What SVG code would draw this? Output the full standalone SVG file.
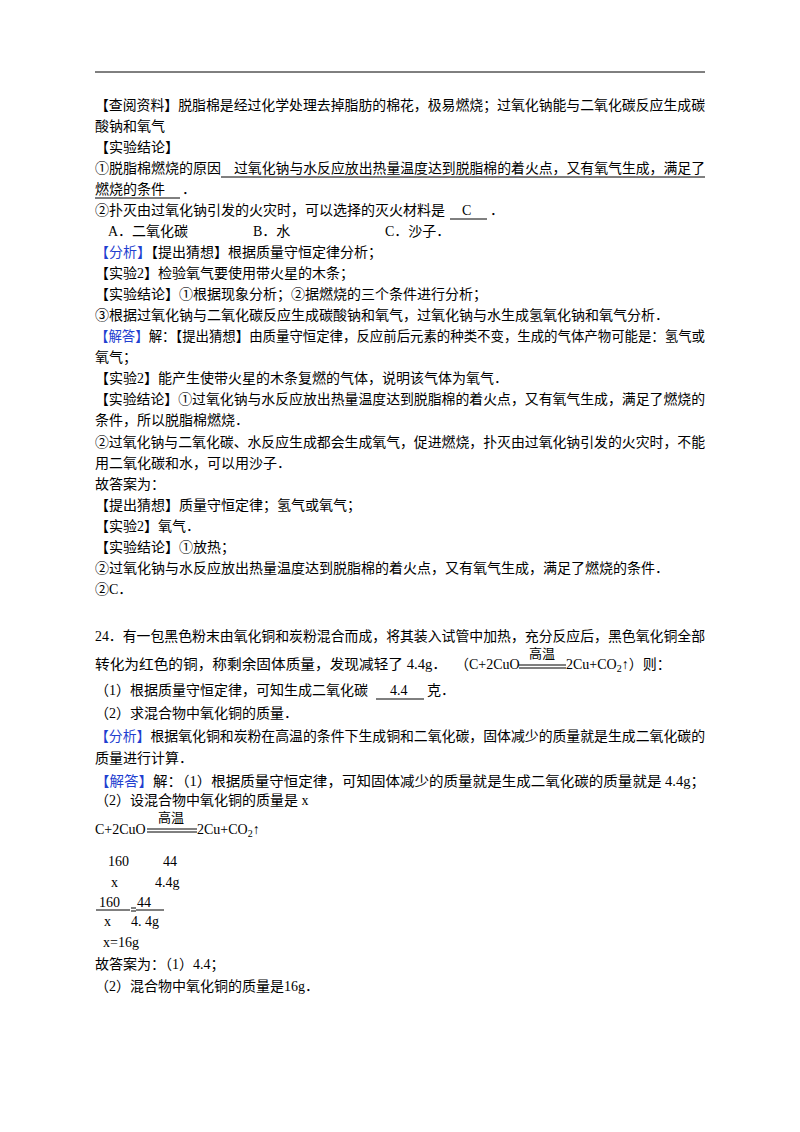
<svg xmlns="http://www.w3.org/2000/svg" width="800" height="1132" viewBox="0 0 800 1132">
<style>
text{font-family:"Liberation Serif","Noto Sans CJK SC",serif;font-size:14px;fill:#000}
.b{fill:#1f3fd0}
.h{font-family:"Noto Sans CJK SC",sans-serif;font-size:13px}
line{stroke:#000;stroke-width:1}
</style>
<rect width="800" height="1132" fill="#fff"/>
<line x1="95" y1="72" x2="705" y2="72" stroke-width="1.5"/>
<text x="95" y="110" textLength="610" lengthAdjust="spacingAndGlyphs">【查阅资料】脱脂棉是经过化学处理去掉脂肪的棉花，极易燃烧；过氧化钠能与二氧化碳反应生成碳</text>
<text x="95" y="131">酸钠和氧气</text>
<text x="95" y="152">【实验结论】</text>
<text x="95" y="173">①脱脂棉燃烧的原因</text>
<text x="234" y="173" textLength="471" lengthAdjust="spacingAndGlyphs">过氧化钠与水反应放出热量温度达到脱脂棉的着火点，又有氧气生成，满足了</text>
<line x1="221" y1="177" x2="705" y2="177"/>
<text x="95" y="194">燃烧的条件</text>
<line x1="95" y1="198" x2="180" y2="198"/>
<text x="182" y="194">．</text>
<text x="95" y="215">②扑灭由过氧化钠引发的火灾时，可以选择的灭火材料是</text>
<text x="462" y="215">C</text>
<line x1="450" y1="219" x2="487" y2="219"/>
<text x="490" y="215">．</text>
<text x="108" y="236">A．二氧化碳</text>
<text x="253" y="236">B．水</text>
<text x="385" y="236">C．沙子．</text>
<text x="95" y="257"><tspan class="b">【分析】</tspan>【提出猜想】根据质量守恒定律分析；</text>
<text x="95" y="278">【实验2】检验氧气要使用带火星的木条；</text>
<text x="95" y="299">【实验结论】①根据现象分析；②据燃烧的三个条件进行分析；</text>
<text x="95" y="320">③根据过氧化钠与二氧化碳反应生成碳酸钠和氧气，过氧化钠与水生成氢氧化钠和氧气分析．</text>
<text x="95" y="341" textLength="610" lengthAdjust="spacingAndGlyphs"><tspan class="b">【解答】</tspan>解：【提出猜想】由质量守恒定律，反应前后元素的种类不变，生成的气体产物可能是：氢气或</text>
<text x="95" y="362">氧气；</text>
<text x="95" y="383">【实验2】能产生使带火星的木条复燃的气体，说明该气体为氧气．</text>
<text x="95" y="404" textLength="610" lengthAdjust="spacingAndGlyphs">【实验结论】①过氧化钠与水反应放出热量温度达到脱脂棉的着火点，又有氧气生成，满足了燃烧的</text>
<text x="95" y="425">条件，所以脱脂棉燃烧．</text>
<text x="95" y="447" textLength="610" lengthAdjust="spacingAndGlyphs">②过氧化钠与二氧化碳、水反应生成都会生成氧气，促进燃烧，扑灭由过氧化钠引发的火灾时，不能</text>
<text x="95" y="468">用二氧化碳和水，可以用沙子．</text>
<text x="95" y="489">故答案为：</text>
<text x="95" y="510">【提出猜想】质量守恒定律；氢气或氧气；</text>
<text x="95" y="531">【实验2】氧气．</text>
<text x="95" y="552">【实验结论】①放热；</text>
<text x="95" y="573">②过氧化钠与水反应放出热量温度达到脱脂棉的着火点，又有氧气生成，满足了燃烧的条件．</text>
<text x="95" y="594">②C．</text>
<text x="95" y="641" textLength="610" lengthAdjust="spacingAndGlyphs">24．有一包黑色粉末由氧化铜和炭粉混合而成，将其装入试管中加热，充分反应后，黑色氧化铜全部</text>
<text x="95" y="669" textLength="352" lengthAdjust="spacingAndGlyphs">转化为红色的铜，称剩余固体质量，发现减轻了 4.4g．</text>
<text x="455" y="669">（C+2CuO</text>
<text class="h" x="529" y="658">高温</text>
<line x1="519" y1="665" x2="566" y2="665"/><line x1="519" y1="668" x2="566" y2="668"/>
<text x="566" y="669">2Cu+CO<tspan font-size="10" dy="3">2</tspan><tspan dy="-3">↑）则：</tspan></text>
<text x="95" y="695">（1）根据质量守恒定律，可知生成二氧化碳</text>
<text x="390" y="695">4.4</text>
<line x1="376" y1="699" x2="424" y2="699"/>
<text x="427" y="695">克．</text>
<text x="95" y="718">（2）求混合物中氧化铜的质量．</text>
<text x="95" y="741" textLength="610" lengthAdjust="spacingAndGlyphs"><tspan class="b">【分析】</tspan>根据氧化铜和炭粉在高温的条件下生成铜和二氧化碳，固体减少的质量就是生成二氧化碳的</text>
<text x="95" y="763">质量进行计算．</text>
<text x="95" y="786" textLength="610" lengthAdjust="spacingAndGlyphs"><tspan class="b">【解答】</tspan>解：（1）根据质量守恒定律，可知固体减少的质量就是生成二氧化碳的质量就是 4.4g；</text>
<text x="95" y="805">（2）设混合物中氧化铜的质量是 x</text>
<text class="h" x="158" y="822">高温</text>
<text x="95" y="834">C+2CuO</text>
<line x1="147" y1="829" x2="197" y2="829"/><line x1="147" y1="832" x2="197" y2="832"/>
<text x="197" y="834">2Cu+CO<tspan font-size="10" dy="3">2</tspan><tspan dy="-3">↑</tspan></text>
<text x="108" y="866">160</text>
<text x="163" y="866">44</text>
<text x="111" y="887">x</text>
<text x="155" y="887">4.4g</text>
<text x="99" y="907" font-family="Liberation Mono,monospace">160</text>
<text x="137" y="907" font-family="Liberation Mono,monospace">44</text>
<line x1="96" y1="910" x2="130" y2="910" stroke-width="1.5"/>
<line x1="131" y1="908" x2="136" y2="908"/><line x1="131" y1="911" x2="136" y2="911"/>
<line x1="136" y1="910" x2="164" y2="910" stroke-width="1.5"/>
<text x="104" y="926" font-family="Liberation Mono,monospace">x</text>
<text x="131" y="926" font-family="Liberation Mono,monospace" font-size="13">4. 4g</text>
<text x="103" y="947">x=16g</text>
<text x="95" y="969">故答案为：（1）4.4；</text>
<text x="95" y="991">（2）混合物中氧化铜的质量是16g．</text>
</svg>
